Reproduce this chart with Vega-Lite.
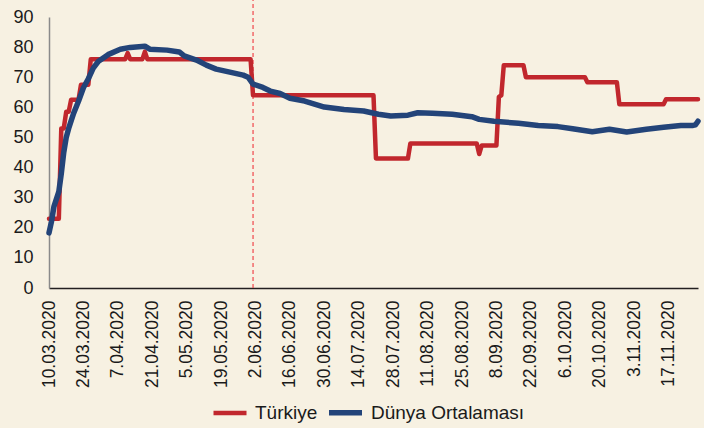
{
  "$schema": "https://vega.github.io/schema/vega-lite/v6.json",
  "width": 649,
  "height": 271,
  "autosize": "none",
  "padding": {"left": 49, "top": 17, "right": 6, "bottom": 140},
  "background": "#f7f1e2",
  "config": {
    "view": {"stroke": null},
    "font": "Liberation Sans",
    "axis": {"labelFont": "Liberation Sans", "labelColor": "#1a1a1a", "grid": false, "ticks": false, "title": null}
  },
  "encoding": {
    "x": {
      "field": "date",
      "type": "temporal",
      "scale": {
        "type": "utc",
        "domain": [
          {"year": 2020, "month": 3, "date": 10, "utc": true},
          {"year": 2020, "month": 11, "date": 29, "utc": true}
        ]
      },
      "axis": {
        "format": "%-d.%m.%Y",
        "labelAngle": -90,
        "labelFontSize": 17.5,
        "labelPadding": 12,
        "labelOverlap": false,
        "labelFlush": false,
        "domainColor": "#231f20",
        "domainWidth": 1.5,
        "values": [
          {"year": 2020, "month": 3, "date": 10, "utc": true},
          {"year": 2020, "month": 3, "date": 24, "utc": true},
          {"year": 2020, "month": 4, "date": 7, "utc": true},
          {"year": 2020, "month": 4, "date": 21, "utc": true},
          {"year": 2020, "month": 5, "date": 5, "utc": true},
          {"year": 2020, "month": 5, "date": 19, "utc": true},
          {"year": 2020, "month": 6, "date": 2, "utc": true},
          {"year": 2020, "month": 6, "date": 16, "utc": true},
          {"year": 2020, "month": 6, "date": 30, "utc": true},
          {"year": 2020, "month": 7, "date": 14, "utc": true},
          {"year": 2020, "month": 7, "date": 28, "utc": true},
          {"year": 2020, "month": 8, "date": 11, "utc": true},
          {"year": 2020, "month": 8, "date": 25, "utc": true},
          {"year": 2020, "month": 9, "date": 8, "utc": true},
          {"year": 2020, "month": 9, "date": 22, "utc": true},
          {"year": 2020, "month": 10, "date": 6, "utc": true},
          {"year": 2020, "month": 10, "date": 20, "utc": true},
          {"year": 2020, "month": 11, "date": 3, "utc": true},
          {"year": 2020, "month": 11, "date": 17, "utc": true}
        ]
      }
    },
    "y": {
      "field": "value",
      "type": "quantitative",
      "scale": {"domain": [0, 90], "nice": false},
      "axis": {
        "values": [0, 10, 20, 30, 40, 50, 60, 70, 80, 90],
        "labelFontSize": 18,
        "labelPadding": 16,
        "labelOverlap": false,
        "domainColor": "#8a8a8a",
        "domainWidth": 1.5
      }
    }
  },
  "layer": [
    {
      "data": {"values": [{"date": "2020-06-01", "value": 0, "hi": 96}]},
      "mark": {"type": "rule", "color": "#f0474c", "strokeDash": [4, 3], "strokeWidth": 1.2, "clip": false},
      "encoding": {
        "y2": {"field": "hi"}
      }
    },
    {
      "data": {"values": [
        {"date": "2020-03-10", "series": "Türkiye", "value": 23},
        {"date": "2020-03-14", "series": "Türkiye", "value": 23},
        {"date": "2020-03-15", "series": "Türkiye", "value": 53},
        {"date": "2020-03-16", "series": "Türkiye", "value": 53},
        {"date": "2020-03-17", "series": "Türkiye", "value": 58.5},
        {"date": "2020-03-18", "series": "Türkiye", "value": 58.5},
        {"date": "2020-03-19", "series": "Türkiye", "value": 62.5},
        {"date": "2020-03-22", "series": "Türkiye", "value": 62.5},
        {"date": "2020-03-23", "series": "Türkiye", "value": 67.5},
        {"date": "2020-03-26", "series": "Türkiye", "value": 67.5},
        {"date": "2020-03-27", "series": "Türkiye", "value": 76},
        {"date": "2020-04-10", "series": "Türkiye", "value": 76},
        {"date": "2020-04-11", "series": "Türkiye", "value": 78},
        {"date": "2020-04-12", "series": "Türkiye", "value": 76},
        {"date": "2020-04-17", "series": "Türkiye", "value": 76},
        {"date": "2020-04-18", "series": "Türkiye", "value": 78.5},
        {"date": "2020-04-19", "series": "Türkiye", "value": 76},
        {"date": "2020-05-31", "series": "Türkiye", "value": 76},
        {"date": "2020-06-01", "series": "Türkiye", "value": 64},
        {"date": "2020-07-20", "series": "Türkiye", "value": 64},
        {"date": "2020-07-21", "series": "Türkiye", "value": 43},
        {"date": "2020-08-03", "series": "Türkiye", "value": 43},
        {"date": "2020-08-04", "series": "Türkiye", "value": 48},
        {"date": "2020-08-31", "series": "Türkiye", "value": 48},
        {"date": "2020-09-01", "series": "Türkiye", "value": 44.5},
        {"date": "2020-09-02", "series": "Türkiye", "value": 47.3},
        {"date": "2020-09-08", "series": "Türkiye", "value": 47.3},
        {"date": "2020-09-09", "series": "Türkiye", "value": 63.5},
        {"date": "2020-09-10", "series": "Türkiye", "value": 64},
        {"date": "2020-09-11", "series": "Türkiye", "value": 74},
        {"date": "2020-09-19", "series": "Türkiye", "value": 74},
        {"date": "2020-09-20", "series": "Türkiye", "value": 70},
        {"date": "2020-10-14", "series": "Türkiye", "value": 70},
        {"date": "2020-10-15", "series": "Türkiye", "value": 68.3},
        {"date": "2020-10-27", "series": "Türkiye", "value": 68.3},
        {"date": "2020-10-28", "series": "Türkiye", "value": 61},
        {"date": "2020-11-15", "series": "Türkiye", "value": 61},
        {"date": "2020-11-16", "series": "Türkiye", "value": 62.7},
        {"date": "2020-11-29", "series": "Türkiye", "value": 62.7},
        {"date": "2020-03-10", "series": "Dünya Ortalaması", "value": 18.3},
        {"date": "2020-03-11", "series": "Dünya Ortalaması", "value": 22},
        {"date": "2020-03-12", "series": "Dünya Ortalaması", "value": 27},
        {"date": "2020-03-14", "series": "Dünya Ortalaması", "value": 32},
        {"date": "2020-03-15", "series": "Dünya Ortalaması", "value": 38},
        {"date": "2020-03-16", "series": "Dünya Ortalaması", "value": 45},
        {"date": "2020-03-17", "series": "Dünya Ortalaması", "value": 50},
        {"date": "2020-03-18", "series": "Dünya Ortalaması", "value": 53},
        {"date": "2020-03-20", "series": "Dünya Ortalaması", "value": 58},
        {"date": "2020-03-22", "series": "Dünya Ortalaması", "value": 62},
        {"date": "2020-03-24", "series": "Dünya Ortalaması", "value": 66.5},
        {"date": "2020-03-26", "series": "Dünya Ortalaması", "value": 69.5},
        {"date": "2020-03-28", "series": "Dünya Ortalaması", "value": 73},
        {"date": "2020-03-30", "series": "Dünya Ortalaması", "value": 75.2},
        {"date": "2020-04-03", "series": "Dünya Ortalaması", "value": 77.5},
        {"date": "2020-04-08", "series": "Dünya Ortalaması", "value": 79.3},
        {"date": "2020-04-12", "series": "Dünya Ortalaması", "value": 79.9},
        {"date": "2020-04-18", "series": "Dünya Ortalaması", "value": 80.3},
        {"date": "2020-04-20", "series": "Dünya Ortalaması", "value": 79.3},
        {"date": "2020-04-27", "series": "Dünya Ortalaması", "value": 79},
        {"date": "2020-05-02", "series": "Dünya Ortalaması", "value": 78.4},
        {"date": "2020-05-04", "series": "Dünya Ortalaması", "value": 77.1},
        {"date": "2020-05-09", "series": "Dünya Ortalaması", "value": 75.7},
        {"date": "2020-05-13", "series": "Dünya Ortalaması", "value": 74},
        {"date": "2020-05-17", "series": "Dünya Ortalaması", "value": 72.7},
        {"date": "2020-05-23", "series": "Dünya Ortalaması", "value": 71.6},
        {"date": "2020-05-28", "series": "Dünya Ortalaması", "value": 70.7},
        {"date": "2020-05-30", "series": "Dünya Ortalaması", "value": 70},
        {"date": "2020-06-01", "series": "Dünya Ortalaması", "value": 67.7},
        {"date": "2020-06-05", "series": "Dünya Ortalaması", "value": 66.6},
        {"date": "2020-06-08", "series": "Dünya Ortalaması", "value": 65.4},
        {"date": "2020-06-12", "series": "Dünya Ortalaması", "value": 64.6},
        {"date": "2020-06-16", "series": "Dünya Ortalaması", "value": 63},
        {"date": "2020-06-22", "series": "Dünya Ortalaması", "value": 62.1},
        {"date": "2020-06-30", "series": "Dünya Ortalaması", "value": 60.1},
        {"date": "2020-07-08", "series": "Dünya Ortalaması", "value": 59.3},
        {"date": "2020-07-16", "series": "Dünya Ortalaması", "value": 58.8},
        {"date": "2020-07-22", "series": "Dünya Ortalaması", "value": 57.7},
        {"date": "2020-07-27", "series": "Dünya Ortalaması", "value": 57.1},
        {"date": "2020-08-03", "series": "Dünya Ortalaması", "value": 57.4},
        {"date": "2020-08-07", "series": "Dünya Ortalaması", "value": 58.2},
        {"date": "2020-08-13", "series": "Dünya Ortalaması", "value": 58},
        {"date": "2020-08-21", "series": "Dünya Ortalaması", "value": 57.7},
        {"date": "2020-08-29", "series": "Dünya Ortalaması", "value": 56.9},
        {"date": "2020-09-01", "series": "Dünya Ortalaması", "value": 56},
        {"date": "2020-09-07", "series": "Dünya Ortalaması", "value": 55.4},
        {"date": "2020-09-17", "series": "Dünya Ortalaması", "value": 54.7},
        {"date": "2020-09-25", "series": "Dünya Ortalaması", "value": 54},
        {"date": "2020-10-03", "series": "Dünya Ortalaması", "value": 53.6},
        {"date": "2020-10-09", "series": "Dünya Ortalaması", "value": 52.9},
        {"date": "2020-10-17", "series": "Dünya Ortalaması", "value": 51.9},
        {"date": "2020-10-24", "series": "Dünya Ortalaması", "value": 52.7},
        {"date": "2020-10-31", "series": "Dünya Ortalaması", "value": 51.8},
        {"date": "2020-11-08", "series": "Dünya Ortalaması", "value": 52.7},
        {"date": "2020-11-15", "series": "Dünya Ortalaması", "value": 53.4},
        {"date": "2020-11-22", "series": "Dünya Ortalaması", "value": 54},
        {"date": "2020-11-27", "series": "Dünya Ortalaması", "value": 54},
        {"date": "2020-11-28", "series": "Dünya Ortalaması", "value": 54.2},
        {"date": "2020-11-29", "series": "Dünya Ortalaması", "value": 55.4}
      ]},
      "mark": {"type": "line", "strokeJoin": "round", "strokeCap": "round", "clip": false},
      "encoding": {
        "strokeWidth": {
          "field": "series",
          "type": "nominal",
          "scale": {"domain": ["Türkiye", "Dünya Ortalaması"], "range": [4.5, 5.5]},
          "legend": null
        },
        "color": {
          "field": "series",
          "type": "nominal",
          "scale": {"domain": ["Türkiye", "Dünya Ortalaması"], "range": ["#c1272d", "#234479"]},
          "legend": {
            "title": null,
            "orient": "none",
            "direction": "horizontal",
            "legendX": 162,
            "legendY": 376,
            "symbolType": "stroke",
            "symbolSize": 1089,
            "symbolStrokeWidth": 5.5,
            "labelFontSize": 19,
            "labelFont": "Liberation Sans",
            "labelColor": "#1a1a1a",
            "labelOffset": 6,
            "columnPadding": 0
          }
        }
      }
    }
  ]
}
